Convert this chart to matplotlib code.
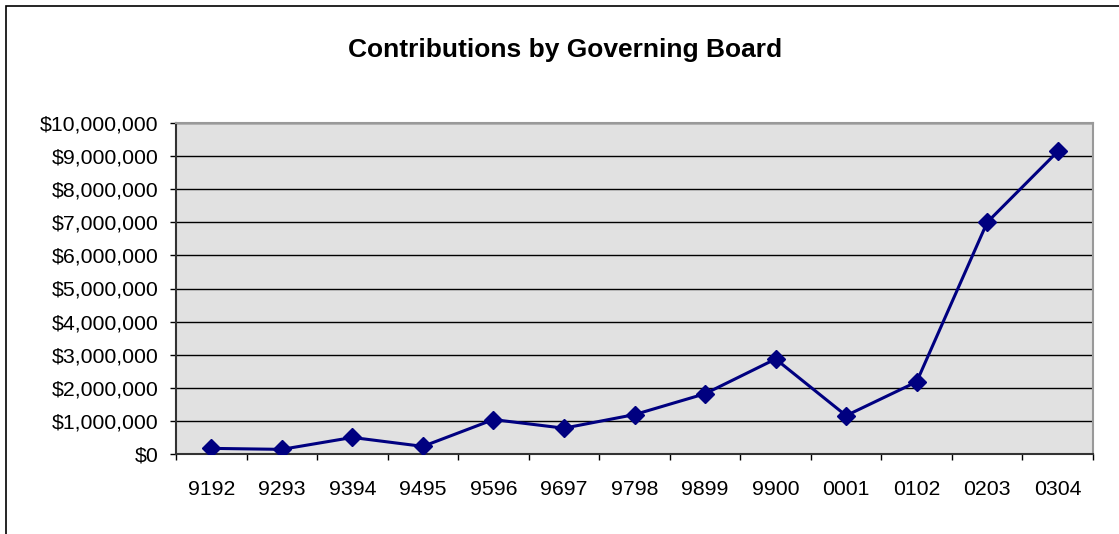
import matplotlib.pyplot as plt
from matplotlib.ticker import FuncFormatter, FixedLocator
from matplotlib.patches import Rectangle

# fiscal years and board contributions (dollars)
years = ["9192", "9293", "9394", "9495", "9596", "9697", "9798",
         "9899", "9900", "0001", "0102", "0203", "0304"]
contrib = [170000, 140000, 500000, 230000, 1040000, 780000, 1190000,
           1820000, 2870000, 1160000, 2180000, 7000000, 9140000]

plt.rcParams['font.family'] = ['Liberation Sans', 'DejaVu Sans']

fig = plt.figure(figsize=(11.19, 5.34), dpi=100)
# outer chart border (runs off the right/bottom edge as in the original)
fig.patches.append(Rectangle((6 / 1119, -0.1), 1.2, 1 - 6 / 534 + 0.1,
                             transform=fig.transFigure, fill=False,
                             edgecolor='black', linewidth=1.2))

ax = fig.add_axes([176 / 1119, 80 / 534, 917 / 1119, 331 / 534])
ax.set_facecolor('#e1e1e1')

x = range(len(years))
ax.plot(x, contrib, color='#000080', linewidth=2.2, marker='D',
        markersize=9.5, zorder=3)

ax.set_xlim(-0.5, len(years) - 0.5)
ax.set_ylim(0, 10000000)
ax.set_yticks(range(0, 10000001, 1000000))
ax.yaxis.set_major_formatter(FuncFormatter(lambda v, p: "${:,.0f}".format(v)))
ax.grid(axis='y', color='black', linewidth=1)
ax.set_axisbelow(True)

ax.set_xticks(list(x))
ax.set_xticklabels(years)
ax.xaxis.set_minor_locator(FixedLocator([i - 0.5 for i in range(len(years) + 1)]))
ax.tick_params(axis='x', which='major', length=0, pad=19, labelsize=15.3)
ax.tick_params(axis='x', which='minor', length=4.3, width=1)
ax.tick_params(axis='y', length=4.3, width=1, labelsize=15.3, pad=8.5)

ax.spines['left'].set_color('#333333')
ax.spines['bottom'].set_color('#333333')
ax.spines['top'].set_color('#999999')
ax.spines['right'].set_color('#999999')
for s in ax.spines.values():
    s.set_linewidth(1.5)

fig.text(565 / 1119, 1 - 50 / 534, "Contributions by Governing Board",
         ha='center', va='center', fontsize=19, fontweight='bold')

fig.savefig("out.png", dpi=100)
